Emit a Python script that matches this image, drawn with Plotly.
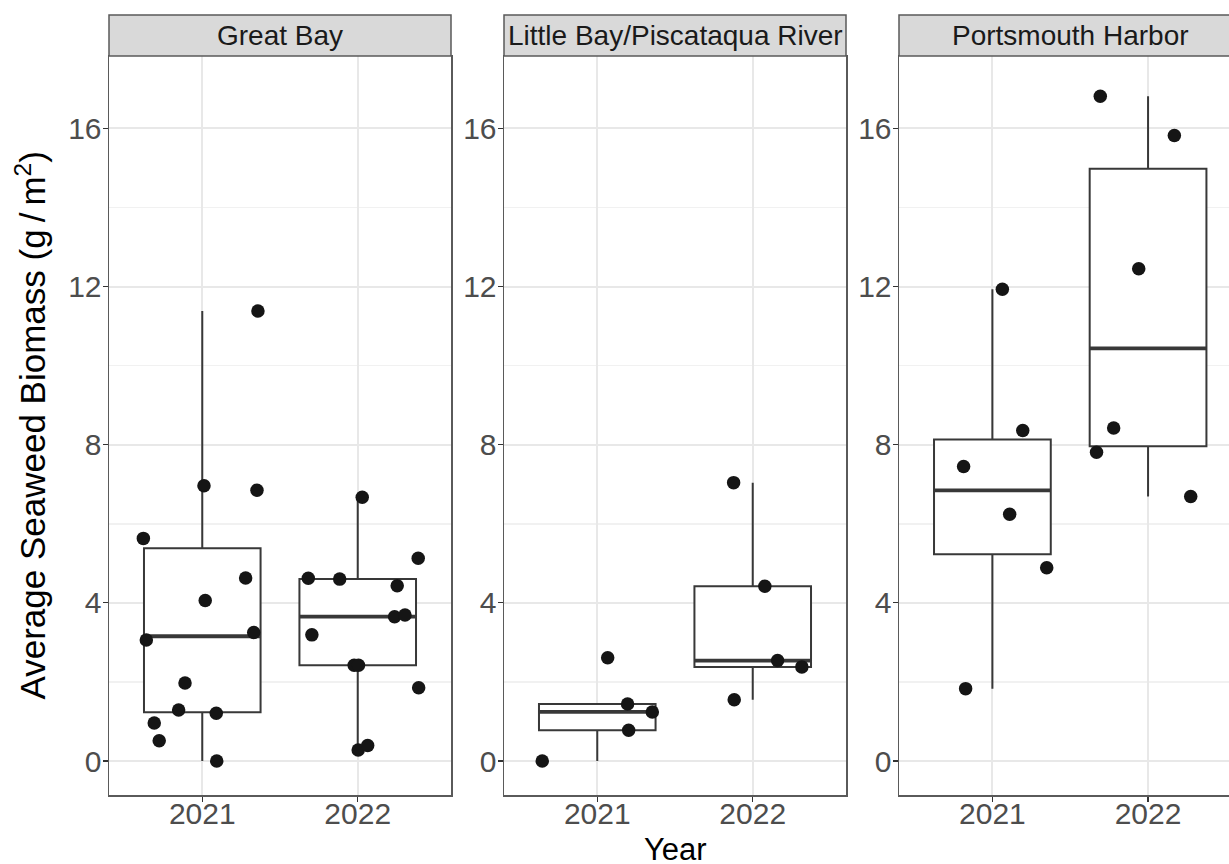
import numpy as np
import plotly.graph_objects as go

# ---------------- data ----------------
regions = ["Great Bay", "Little Bay/Piscataqua River", "Portsmouth Harbor"]
years = ["2021", "2022"]

great_bay_2021 = [6.96, 6.85, 5.63, 4.63, 4.06, 3.25, 3.06, 1.97, 1.29, 1.21, 0.96, 0.51, 0.00, 11.38]
great_bay_2021_jitter = [0.011, 0.352, -0.379, 0.279, 0.019, 0.331, -0.360, -0.111, -0.152, 0.090, -0.309, -0.277, 0.093, 0.358]
great_bay_2022 = [6.67, 5.13, 4.62, 4.60, 4.43, 3.65, 3.69, 3.19, 2.42, 2.42, 1.85, 0.28, 0.39]
great_bay_2022_jitter = [0.029, 0.389, -0.318, -0.116, 0.254, 0.237, 0.304, -0.295, -0.023, 0.005, 0.392, 0.003, 0.064]

little_bay_2021 = [0.00, 2.61, 1.44, 1.24, 0.78]
little_bay_2021_jitter = [-0.354, 0.067, 0.195, 0.354, 0.202]
little_bay_2022 = [7.04, 4.42, 2.54, 2.38, 1.55]
little_bay_2022_jitter = [-0.123, 0.078, 0.160, 0.316, -0.119]

portsmouth_2021 = [11.93, 8.36, 7.45, 6.24, 4.89, 1.83]
portsmouth_2021_jitter = [0.064, 0.195, -0.185, 0.111, 0.349, -0.172]
portsmouth_2022 = [16.81, 15.82, 12.45, 8.42, 7.81, 6.69]
portsmouth_2022_jitter = [-0.307, 0.169, -0.060, -0.221, -0.331, 0.274]

y_ticks = [0, 4, 8, 12, 16]
y_minor = [2, 6, 10, 14]

groups = {
    "Great Bay": [(great_bay_2021, great_bay_2021_jitter), (great_bay_2022, great_bay_2022_jitter)],
    "Little Bay/Piscataqua River": [(little_bay_2021, little_bay_2021_jitter), (little_bay_2022, little_bay_2022_jitter)],
    "Portsmouth Harbor": [(portsmouth_2021, portsmouth_2021_jitter), (portsmouth_2022, portsmouth_2022_jitter)],
}

# ---------------- styling ----------------
FONT = "Liberation Sans, Arial, Helvetica, sans-serif"
W, H = 1229, 864
ML, MT, MB = 109, 56, 69
PW = W - ML          # plot area width (px)
PH = H - MT - MB     # plot area height (px)
panel_px = [(109, 451), (504, 846), (899, 1229)]
x_ranges = [[0.4, 2.6], [0.4, 2.6], [0.4, 2.52]]
y_range = [-0.86, 17.83]
BORDER = "#5a5a5a"
BOXLINE = "#383838"
GRID = "#E8E8E8"
GRID_MINOR = "#F1F1F1"
BOX_W = 0.75
TICKFONT = dict(family=FONT, size=30, color="#4D4D4D")


def box_stats(vals):
    v = np.sort(np.asarray(vals, dtype=float))
    q1, med, q3 = np.percentile(v, [25, 50, 75])
    iqr = q3 - q1
    lo = v[v >= q1 - 1.5 * iqr].min()
    hi = v[v <= q3 + 1.5 * iqr].max()
    return q1, med, q3, lo, hi


fig = go.Figure()
layout = {}

for i, region in enumerate(regions):
    sfx = "" if i == 0 else str(i + 1)
    xa, ya = "x" + sfx, "y" + sfx
    for j, (vals, jit) in enumerate(groups[region]):
        c = j + 1
        q1, med, q3, lo, hi = box_stats(vals)
        fig.add_trace(go.Box(
            x=[c], q1=[q1], median=[med], q3=[q3], lowerfence=[lo], upperfence=[hi],
            width=BOX_W, whiskerwidth=0, boxpoints=False,
            fillcolor="white", line=dict(color=BOXLINE, width=2),
            xaxis=xa, yaxis=ya, showlegend=False, hoverinfo="skip"))
        fig.add_trace(go.Scatter(
            x=[c - BOX_W / 2, c + BOX_W / 2], y=[med, med], mode="lines",
            line=dict(color=BOXLINE, width=3.8), xaxis=xa, yaxis=ya,
            showlegend=False, hoverinfo="skip"))
        fig.add_trace(go.Scatter(
            x=[c + d for d in jit], y=vals, mode="markers",
            marker=dict(size=13.5, color="#151515", line=dict(width=0)),
            xaxis=xa, yaxis=ya, showlegend=False))

    x0, x1 = panel_px[i]
    d0, d1 = (x0 - ML) / PW, min(1.0, (x1 - ML) / PW)
    layout["xaxis" + sfx] = dict(
        domain=[d0, d1], anchor=ya, range=x_ranges[i], automargin=False,
        tickmode="array", tickvals=[1, 2], ticktext=years,
        showgrid=True, gridcolor=GRID, gridwidth=2, zeroline=False,
        showline=True, linecolor=BORDER, linewidth=1.5, mirror=True,
        ticks="outside", ticklen=5, tickwidth=1.2, tickcolor="#333333",
        ticklabelstandoff=-14,
        tickfont=TICKFONT, fixedrange=True)
    layout["yaxis" + sfx] = dict(
        domain=[0, 1], anchor=xa, range=y_range, automargin=False,
        tickmode="array", tickvals=y_ticks,
        showgrid=True, gridcolor=GRID, gridwidth=2, zeroline=False,
        minor=dict(tickmode="array", tickvals=y_minor, showgrid=True,
                   gridcolor=GRID_MINOR, gridwidth=1.5, ticks=""),
        showline=True, linecolor=BORDER, linewidth=1.5, mirror=(i < 2),
        ticks="outside", ticklen=5, tickwidth=1.2, tickcolor="#333333",
        ticklabelstandoff=-5,
        tickfont=TICKFONT, fixedrange=True)

# strips
shapes = []
annotations = []
strip_top = (MT - 15) / PH
for i, region in enumerate(regions):
    x0, x1 = panel_px[i]
    full_x1 = x0 + 342
    shapes.append(dict(
        type="rect", xref="paper", yref="paper",
        x0=(x0 - ML) / PW, x1=(full_x1 - ML) / PW, y0=1, y1=1 + strip_top,
        fillcolor="#D9D9D9", line=dict(color=BORDER, width=1.5), layer="above"))
    annotations.append(dict(
        text=region, xref="paper", yref="paper",
        x=((x0 + full_x1) / 2 - ML) / PW, y=1 + strip_top / 2,
        xanchor="center", yanchor="middle", showarrow=False,
        font=dict(family=FONT, size=28, color="#1A1A1A")))

# axis titles
annotations.append(dict(
    text="Year", xref="paper", yref="paper",
    x=(675 - ML) / PW, y=-(849 - (MT + PH)) / PH,
    xanchor="center", yanchor="middle", showarrow=False,
    font=dict(family=FONT, size=31, color="black")))
annotations.append(dict(
    text="Average Seaweed Biomass (g\u2009/\u2009m<sup>2</sup>)", xref="paper", yref="paper",
    x=(30 - ML) / PW, y=0.5, textangle=-90,
    xanchor="center", yanchor="middle", showarrow=False,
    font=dict(family=FONT, size=35, color="black")))

fig.update_layout(
    width=W, height=H,
    margin=dict(l=ML, r=0, t=MT, b=MB, pad=0),
    paper_bgcolor="white", plot_bgcolor="white",
    shapes=shapes, annotations=annotations,
    showlegend=False, **layout)

fig.write_html(
    "out.html",
    config={"displayModeBar": False, "staticPlot": True},
    post_script="document.body.style.margin='0';document.body.style.padding='0';"
                "document.body.style.overflow='hidden';")
